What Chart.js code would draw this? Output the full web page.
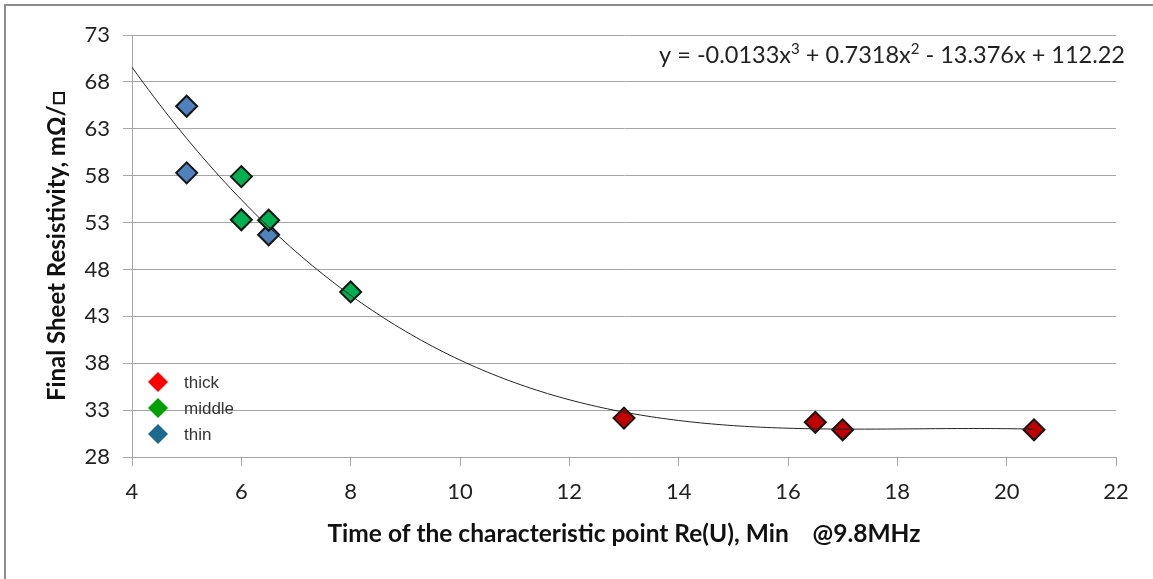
<!DOCTYPE html>
<html>
<head>
<meta charset="utf-8">
<script src="https://cdn.jsdelivr.net/npm/chart.js@4/dist/chart.umd.min.js"></script>
<style>
  body { margin: 0; background: #fff; overflow: hidden; }
  #frame { position: absolute; left: 4px; top: 4px; width: 1200px; height: 600px;
           border-left: 2px solid #8c8c8c; border-top: 2px solid #8c8c8c; }
  #wrap { position: absolute; left: 0; top: 0; width: 1153px; height: 579px; }
</style>
</head>
<body>
<div id="frame"></div>
<div id="wrap"><canvas id="myChart" width="1153" height="579"></canvas></div>
<script>
'use strict';

// measured samples, grouped by film thickness
let thinX = [5, 5, 6.5];
let thinY = [65.4, 58.3, 51.7];
let middleX = [6, 6, 6.5, 8];
let middleY = [57.9, 53.3, 53.25, 45.6];
let thickX = [13, 16.5, 17, 20.5];
let thickY = [32.15, 31.7, 30.9, 30.9];

// cubic trend line: y = c3*x^3 + c2*x^2 + c1*x + c0
let trendCoef = [-0.0133, 0.7318, -13.376, 112.22];
let trendFrom = 4;
let trendTo = 20.5;
// equation text, pieces flagged 1 are superscripts
let trendText = [['y = -0.0133x', 0], ['3', 1], [' + 0.7318x', 0], ['2', 1], [' - 13.376x + 112.22', 0]];

let xTicks = [4, 6, 8, 10, 12, 14, 16, 18, 20, 22];
let yTicks = [28, 33, 38, 43, 48, 53, 58, 63, 68, 73];

let legendNames = ['thick', 'middle', 'thin'];
let legendColors = ['#ff0000', '#00a000', '#1c6b8f'];

function toPoints(xs, ys){
    let pts = [];
    for(let i = 0; i < xs.length; i++){
        pts.push({x: xs[i], y: ys[i]});
    }
    return pts;
}

function trendPoints(){
    let pts = [];
    for(let x = trendFrom; x <= trendTo + 1e-9; x += 0.1){
        let y = trendCoef[0]*x*x*x + trendCoef[1]*x*x + trendCoef[2]*x + trendCoef[3];
        pts.push({x: x, y: y});
    }
    return pts;
}

let fontFamily = 'Lato, "Open Sans", sans-serif';

let diamond = {
    pointStyle: 'rectRot',
    pointRadius: 10.5,
    pointHoverRadius: 10.5,
    pointBorderWidth: 2,
    pointBorderColor: '#151515',
    showLine: false
};

// legend and equation sit inside the plot, so they are drawn by hand
let overlay = {
    id: 'overlay',
    afterDraw(chart){
        let ctx = chart.ctx;
        ctx.save();
        ctx.font = '17px "Liberation Sans", Arial, sans-serif';
        ctx.textBaseline = 'middle';
        for(let i = 0; i < legendNames.length; i++){
            let cx = 158, cy = 382 + i*26;
            ctx.fillStyle = legendColors[i];
            ctx.beginPath();
            ctx.moveTo(cx, cy - 10);
            ctx.lineTo(cx + 10, cy);
            ctx.lineTo(cx, cy + 10);
            ctx.lineTo(cx - 10, cy);
            ctx.closePath();
            ctx.fill();
            ctx.fillStyle = '#333';
            ctx.fillText(legendNames[i], 184, cy + 1);
        }

        let big = '23.5px ' + fontFamily;
        let small = '15px ' + fontFamily;
        let total = 0;
        trendText.forEach(p => {
            ctx.font = p[1] ? small : big;
            total += ctx.measureText(p[0]).width;
        });
        let x = 1125 - total;
        ctx.fillStyle = '#222';
        ctx.textBaseline = 'alphabetic';
        trendText.forEach(p => {
            ctx.font = p[1] ? small : big;
            ctx.fillText(p[0], x, p[1] ? 54 : 63);
            x += ctx.measureText(p[0]).width;
        });
        ctx.restore();
    }
};

let ctx = document.getElementById('myChart');
let myChart = new Chart(ctx, {
    type: 'scatter',
    data: {
        datasets: [{
            label: 'trend',
            data: trendPoints(),
            showLine: true,
            borderColor: '#222',
            borderWidth: 1,
            pointRadius: 0,
            pointHoverRadius: 0,
            tension: 0
        }, Object.assign({
            label: 'thick',
            data: toPoints(thickX, thickY),
            backgroundColor: '#c00000'
        }, diamond), Object.assign({
            label: 'middle',
            data: toPoints(middleX, middleY),
            backgroundColor: '#00b050'
        }, diamond), Object.assign({
            label: 'thin',
            data: toPoints(thinX, thinY),
            backgroundColor: '#4f81bd'
        }, diamond)]
    },
    options: {
        responsive: false,
        animation: false,
        events: [],
        layout: { padding: { left: 0, top: 35, right: 37, bottom: 0 } },
        plugins: { legend: { display: false }, tooltip: { enabled: false } },
        scales: {
            x: {
                type: 'linear',
                min: 4,
                max: 22,
                afterBuildTicks(scale){ scale.ticks = xTicks.map(v => ({value: v})); },
                afterFit(scale){ scale.height = 122; },
                grid: { drawOnChartArea: false, drawTicks: true, tickLength: 9, color: '#a6a6a6' },
                border: { color: '#a6a6a6' },
                ticks: { color: '#222', padding: 13, maxRotation: 0, font: { family: fontFamily, size: 22 } },
                title: {
                    display: true,
                    text: 'Time of the characteristic point Re(U), Min    @9.8MHz',
                    color: '#111',
                    font: { family: fontFamily, size: 24.5, weight: 'bold' },
                    padding: { top: 0, bottom: 30 }
                }
            },
            y: {
                type: 'linear',
                min: 28,
                max: 73,
                afterBuildTicks(scale){ scale.ticks = yTicks.map(v => ({value: v})); },
                afterFit(scale){ scale.width = 132; },
                grid: { color: '#a6a6a6', tickLength: 9 },
                border: { color: '#a6a6a6' },
                ticks: { color: '#222', padding: 13, font: { family: fontFamily, size: 22 } },
                title: {
                    display: true,
                    text: 'Final Sheet Resistivity, mΩ/□',
                    color: '#111',
                    font: { family: fontFamily, size: 24, weight: 'bold' },
                    padding: { top: 43, bottom: 0 }
                }
            }
        }
    },
    plugins: [overlay]
});
</script>
</body>
</html>
